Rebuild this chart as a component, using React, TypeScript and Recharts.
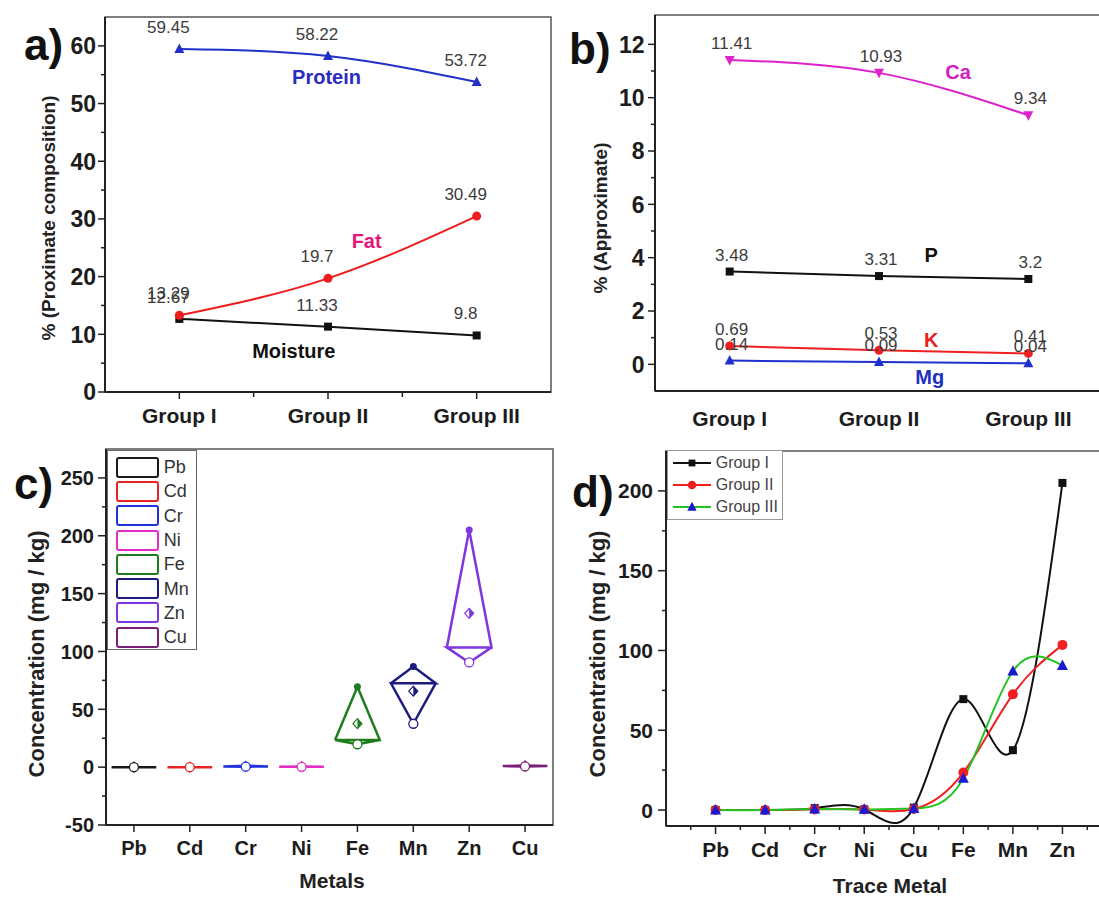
import React from "react";
import {
  LineChart,
  Line,
  XAxis,
  YAxis,
  ReferenceArea,
  ReferenceDot,
  LabelList,
  Legend,
} from "recharts";

const FONT = "'Liberation Sans', Arial, Helvetica, sans-serif";
const INK = "#1c1c1c";
const FRAME = "#555";
const AXIS_LINE = { stroke: "#222", strokeWidth: 2 };

// ---- panel a: proximate composition (%)
const groups = ["Group I", "Group II", "Group III"];
const protein = [59.45, 58.22, 53.72];
const fat = [13.29, 19.7, 30.49];
const moisture = [12.67, 11.33, 9.8];

// ---- panel b: minerals (%)
const calcium = [11.41, 10.93, 9.34];
const phosphorus = [3.48, 3.31, 3.2];
const potassium = [0.69, 0.53, 0.41];
const magnesium = [0.14, 0.09, 0.04];

// ---- panel d: trace metals (mg/kg) per group
const traceMetals = ["Pb", "Cd", "Cr", "Ni", "Cu", "Fe", "Mn", "Zn"];
const groupI = [0, 0, 1.2, 0.5, 1.5, 69.5, 37.5, 205];
const groupII = [0, 0, 0.4, 0.3, 0.6, 23.5, 72.5, 103.5];
const groupIII = [0, 0, 0.6, 0.4, 0.9, 19.8, 87, 90.5];

// ---- panel c: same metals, other order
const metalsC = ["Pb", "Cd", "Cr", "Ni", "Fe", "Mn", "Zn", "Cu"];

const TICKS_A_Y = [0, 5, 10, 15, 20, 25, 30, 35, 40, 45, 50, 55, 60];
const TICKS_B_Y = [0, 1, 2, 3, 4, 5, 6, 7, 8, 9, 10, 11, 12];
const TICKS_C_Y = [-50, -25, 0, 25, 50, 75, 100, 125, 150, 175, 200, 225, 250];
const TICKS_D_Y = [0, 25, 50, 75, 100, 125, 150, 175, 200];
const TICKS_D_X = [0.5, 1, 1.5, 2, 2.5, 3, 3.5, 4, 4.5, 5, 5.5, 6, 6.5, 7, 7.5, 8, 8.5];

const METAL_COLORS: Record<string, string> = {
  Pb: "#1a1a1a",
  Cd: "#e82323",
  Cr: "#2233dd",
  Ni: "#e22ec6",
  Fe: "#1e7d1e",
  Mn: "#1c1c80",
  Zn: "#7f35e0",
  Cu: "#7a1e78",
};

const SERIES_D = [
  { key: "g1", name: "Group I", stroke: "#111", marker: "square", size: 8, fill: "#111" },
  { key: "g2", name: "Group II", stroke: "#f02020", marker: "circle", size: 10, fill: "#f02020" },
  { key: "g3", name: "Group III", stroke: "#22c422", marker: "up", size: 11, fill: "#1a1ad0" },
];

// ---------- helpers
function Mark({ kind, cx, cy, size, fill }: any) {
  const h = size / 2;
  if (kind === "square") return <rect x={cx - h} y={cy - h} width={size} height={size} fill={fill} />;
  if (kind === "circle") return <circle cx={cx} cy={cy} r={h} fill={fill} />;
  if (kind === "up")
    return <path d={`M${cx},${cy - h * 1.1}L${cx + h},${cy + h * 0.8}L${cx - h},${cy + h * 0.8}Z`} fill={fill} />;
  return <path d={`M${cx},${cy + h * 1.1}L${cx + h},${cy - h * 0.8}L${cx - h},${cy - h * 0.8}Z`} fill={fill} />;
}

const dotOf = (kind: string, size: number, fill: string) => (p: any) =>
  <Mark key={p.index} kind={kind} cx={p.cx} cy={p.cy} size={size} fill={fill} />;

function bottomTick(o: { labelOf: (v: number) => string | null; majorLen: number; minorLen: number; fontSize: number; dy: number }) {
  return (p: any) => {
    const v = p.payload.value;
    const label = o.labelOf(v);
    const len = label !== null ? o.majorLen : o.minorLen;
    return (
      <g>
        {len > 0 && <line x1={p.x} x2={p.x} y1={p.y} y2={p.y + len} stroke="#222" strokeWidth={1.5} />}
        {label !== null && (
          <text x={p.x} y={p.y + o.dy} textAnchor="middle" fontSize={o.fontSize} fontWeight="bold" fill={INK}>
            {label}
          </text>
        )}
      </g>
    );
  };
}

function leftTick(o: { labelOf: (v: number) => string | null; majorLen: number; minorLen: number; fontSize: number; gap: number }) {
  return (p: any) => {
    const v = p.payload.value;
    const label = o.labelOf(v);
    const len = label !== null ? o.majorLen : o.minorLen;
    return (
      <g>
        {len > 0 && <line x1={p.x} x2={p.x - len} y1={p.y} y2={p.y} stroke="#222" strokeWidth={1.5} />}
        {label !== null && (
          <text x={p.x - o.gap} y={p.y + o.fontSize * 0.36} textAnchor="end" fontSize={o.fontSize} fontWeight="bold" fill={INK}>
            {label}
          </text>
        )}
      </g>
    );
  };
}

const axisTitle = (text: string, x: number, y: number, size: number, vertical: boolean) => ({
  content: () => (
    <text
      x={x}
      y={y}
      transform={vertical ? `rotate(-90 ${x} ${y})` : undefined}
      textAnchor="middle"
      dominantBaseline="central"
      fontSize={size}
      fontWeight="bold"
      fill="#222"
    >
      {text}
    </text>
  ),
});

const valueLabel = (dx: number, dy: number) => (p: any) => {
  const x = p.x ?? p.viewBox?.x;
  const y = p.y ?? p.viewBox?.y;
  return (
    <text x={x + dx} y={y + dy} textAnchor="middle" fontSize={17} fill="#3c3c3c">
      {p.value}
    </text>
  );
};

const noteShape = (text: string, color: string) => (p: any) => (
  <text x={p.cx} y={p.cy} textAnchor="middle" dominantBaseline="central" fontSize={20} fontWeight="bold" fill={color}>
    {text}
  </text>
);

// ---------- panel a
const rowsA = groups.map((g, i) => ({ x: i + 1, group: g, protein: protein[i], fat: fat[i], moisture: moisture[i] }));

function PanelA() {
  return (
    <div style={{ position: "absolute", left: 0, top: 0 }}>
      <LineChart width={560} height={440} data={rowsA} margin={{ top: 17, right: 9, bottom: 0, left: 0 }}>
        <ReferenceArea x1={0.5} x2={3.5} y1={0} y2={65} fill="none" stroke={FRAME} strokeWidth={1.5} ifOverflow="visible" />
        <XAxis
          dataKey="x"
          type="number"
          domain={[0.5, 3.5]}
          allowDataOverflow
          ticks={[1, 1.5, 2, 2.5, 3]}
          interval={0}
          height={48}
          tickSize={0}
          tickMargin={0}
          tickLine={false}
          axisLine={AXIS_LINE}
          tick={bottomTick({ labelOf: (v) => (Number.isInteger(v) ? groups[v - 1] : null), majorLen: 7, minorLen: 5, fontSize: 21, dy: 30.5 })}
        />
        <YAxis
          type="number"
          domain={[0, 65]}
          allowDataOverflow
          ticks={TICKS_A_Y}
          interval={0}
          width={105}
          tickSize={0}
          tickMargin={0}
          tickLine={false}
          axisLine={AXIS_LINE}
          tick={leftTick({ labelOf: (v) => (v % 10 === 0 ? String(v) : null), majorLen: 7, minorLen: 4, fontSize: 23, gap: 9 })}
          label={axisTitle("% (Proximate composition)", 48, 218, 19, true)}
        />
        <Line dataKey="moisture" type="natural" stroke="#111" strokeWidth={2} dot={dotOf("square", 8, "#111")} isAnimationActive={false}>
          <LabelList dataKey="moisture" content={valueLabel(-11, -16)} />
        </Line>
        <Line dataKey="fat" type="natural" stroke="#ee1c1c" strokeWidth={2} dot={dotOf("circle", 9, "#ee1c1c")} isAnimationActive={false}>
          <LabelList dataKey="fat" content={valueLabel(-11, -16)} />
        </Line>
        <Line dataKey="protein" type="natural" stroke="#2130c8" strokeWidth={2} dot={dotOf("up", 10, "#2130c8")} isAnimationActive={false}>
          <LabelList dataKey="protein" content={valueLabel(-11, -16)} />
        </Line>
        <ReferenceDot x={1.99} y={54.6} r={1} shape={noteShape("Protein", "#2b2bc0")} />
        <ReferenceDot x={2.26} y={26.2} r={1} shape={noteShape("Fat", "#e6177a")} />
        <ReferenceDot x={1.77} y={7.1} r={1} shape={noteShape("Moisture", "#111")} />
      </LineChart>
    </div>
  );
}

// ---------- panel b
const rowsB = groups.map((g, i) => ({
  x: i + 1,
  group: g,
  ca: calcium[i],
  p: phosphorus[i],
  k: potassium[i],
  mg: magnesium[i],
}));

function PanelB() {
  return (
    <div style={{ position: "absolute", left: 550, top: 0 }}>
      <LineChart width={560} height={440} data={rowsB} margin={{ top: 15, right: 7, bottom: 0, left: 0 }}>
        <ReferenceArea x1={0.5} x2={3.5} y1={-1} y2={13.1} fill="none" stroke={FRAME} strokeWidth={1.5} ifOverflow="visible" />
        <XAxis
          dataKey="x"
          type="number"
          domain={[0.5, 3.5]}
          allowDataOverflow
          ticks={[1, 2, 3]}
          interval={0}
          height={49}
          tickSize={0}
          tickMargin={0}
          tickLine={false}
          axisLine={AXIS_LINE}
          tick={bottomTick({ labelOf: (v) => groups[v - 1], majorLen: 0, minorLen: 0, fontSize: 21, dy: 34.5 })}
        />
        <YAxis
          type="number"
          domain={[-1, 13.1]}
          allowDataOverflow
          ticks={TICKS_B_Y}
          interval={0}
          width={105}
          tickSize={0}
          tickMargin={0}
          tickLine={false}
          axisLine={AXIS_LINE}
          tick={leftTick({ labelOf: (v) => (v % 2 === 0 ? String(v) : null), majorLen: 7, minorLen: 4, fontSize: 23, gap: 10.5 })}
          label={axisTitle("% (Approximate)", 50.8, 218, 19, true)}
        />
        <Line dataKey="mg" type="natural" stroke="#1f2fd0" strokeWidth={2} dot={dotOf("up", 10, "#1f2fd0")} isAnimationActive={false}>
          <LabelList dataKey="mg" content={valueLabel(2, -11)} />
        </Line>
        <Line dataKey="k" type="natural" stroke="#ee2020" strokeWidth={2} dot={dotOf("circle", 9, "#ee2020")} isAnimationActive={false}>
          <LabelList dataKey="k" content={valueLabel(2, -11)} />
        </Line>
        <Line dataKey="p" type="natural" stroke="#111" strokeWidth={2} dot={dotOf("square", 8, "#111")} isAnimationActive={false}>
          <LabelList dataKey="p" content={valueLabel(2, -11)} />
        </Line>
        <Line dataKey="ca" type="natural" stroke="#dd22cc" strokeWidth={2} dot={dotOf("down", 10, "#dd22cc")} isAnimationActive={false}>
          <LabelList dataKey="ca" content={valueLabel(2, -11)} />
        </Line>
        <ReferenceDot x={2.53} y={10.97} r={1} shape={noteShape("Ca", "#d020c0")} />
        <ReferenceDot x={2.35} y={4.1} r={1} shape={noteShape("P", "#111")} />
        <ReferenceDot x={2.35} y={0.91} r={1} shape={noteShape("K", "#e82020")} />
        <ReferenceDot x={2.34} y={-0.47} r={1} shape={noteShape("Mg", "#2030c0")} />
      </LineChart>
    </div>
  );
}

// ---------- panel c (diamond boxes built from the three groups)
const HALF = 0.4;
const statsC = metalsC.map((m, i) => {
  const j = traceMetals.indexOf(m);
  const v = [groupI[j], groupII[j], groupIII[j]].sort((a, b) => a - b);
  return { metal: m, x: i + 1, min: v[0], med: v[1], max: v[2], mean: (v[0] + v[1] + v[2]) / 3 };
});

const outlineOf = (s: (typeof statsC)[number]) => [
  { x: s.x - HALF, y: s.med },
  { x: s.x, y: s.max },
  { x: s.x + HALF, y: s.med },
  { x: s.x - HALF, y: s.med },
  { x: s.x, y: s.min },
  { x: s.x + HALF, y: s.med },
];

const maxPts = statsC.map((s) => ({ x: s.x, y: s.max, metal: s.metal }));
const meanPts = statsC.map((s) => ({ x: s.x, y: s.mean, metal: s.metal }));
const minPts = statsC.map((s) => ({ x: s.x, y: s.min, metal: s.metal }));

const maxDot = (p: any) => <circle key={p.index} cx={p.cx} cy={p.cy} r={3.5} fill={METAL_COLORS[p.payload.metal]} />;
const meanDot = (p: any) => {
  const c = METAL_COLORS[p.payload.metal];
  const { cx, cy } = p;
  return (
    <g key={p.index}>
      <path d={`M${cx},${cy - 5}L${cx + 4.5},${cy}L${cx},${cy + 5}L${cx - 4.5},${cy}Z`} fill="#fff" stroke={c} strokeWidth={1.2} />
      <path d={`M${cx},${cy - 5}L${cx + 4.5},${cy}L${cx},${cy + 5}Z`} fill={c} />
    </g>
  );
};
const minDot = (p: any) => (
  <circle key={p.index} cx={p.cx} cy={p.cy} r={4.5} fill="#fff" stroke={METAL_COLORS[p.payload.metal]} strokeWidth={1.3} />
);

const LegendC = (props: any) => {
  const items = metalsC
    .map((m) => (props.payload ?? []).find((e: any) => e.value === m))
    .filter(Boolean);
  return (
    <div style={{ border: "1px solid #666", background: "#fff", width: 90, height: 200, boxSizing: "border-box", paddingTop: 4 }}>
      {items.map((e: any) => (
        <div key={e.value} style={{ display: "flex", alignItems: "center", height: 24.3 }}>
          <div
            style={{
              marginLeft: 8,
              width: 43,
              height: 21,
              boxSizing: "border-box",
              border: `2.5px solid ${e.color}`,
              borderRadius: 3,
            }}
          />
          <span style={{ marginLeft: 5, fontSize: 18, color: "#333", lineHeight: 1 }}>{e.value}</span>
        </div>
      ))}
    </div>
  );
};

function PanelC() {
  return (
    <div style={{ position: "absolute", left: 0, top: 430 }}>
      <LineChart width={560} height={468} margin={{ top: 19, right: 7, bottom: 0, left: 0 }}>
        <ReferenceArea x1={0.5} x2={8.5} y1={-50} y2={275} fill="none" stroke={FRAME} strokeWidth={1.5} ifOverflow="visible" />
        <XAxis
          dataKey="x"
          type="number"
          domain={[0.5, 8.5]}
          allowDataOverflow
          ticks={[1, 2, 3, 4, 5, 6, 7, 8]}
          interval={0}
          height={73}
          tickSize={0}
          tickMargin={0}
          tickLine={false}
          axisLine={AXIS_LINE}
          tick={bottomTick({ labelOf: (v) => metalsC[v - 1], majorLen: 7, minorLen: 0, fontSize: 20, dy: 30 })}
          label={axisTitle("Metals", 332, 450, 21, false)}
        />
        <YAxis
          dataKey="y"
          type="number"
          domain={[-50, 275]}
          allowDataOverflow
          ticks={TICKS_C_Y}
          interval={0}
          width={106}
          tickSize={0}
          tickMargin={0}
          tickLine={false}
          axisLine={AXIS_LINE}
          tick={leftTick({ labelOf: (v) => (v % 50 === 0 ? String(v) : null), majorLen: 8, minorLen: 4, fontSize: 20, gap: 12 })}
          label={axisTitle("Concentration (mg / kg)", 36.4, 224, 22, true)}
        />
        {statsC.map((s) => (
          <Line
            key={s.metal}
            data={outlineOf(s)}
            dataKey="y"
            name={s.metal}
            type="linear"
            stroke={METAL_COLORS[s.metal]}
            strokeWidth={2.5}
            dot={false}
            activeDot={false}
            isAnimationActive={false}
          />
        ))}
        <Line data={maxPts} dataKey="y" name="max" stroke="none" dot={maxDot} legendType="none" activeDot={false} isAnimationActive={false} />
        <Line data={meanPts} dataKey="y" name="mean" stroke="none" dot={meanDot} legendType="none" activeDot={false} isAnimationActive={false} />
        <Line data={minPts} dataKey="y" name="min" stroke="none" dot={minDot} legendType="none" activeDot={false} isAnimationActive={false} />
        <Legend
          layout="vertical"
          align="center"
          verticalAlign="middle"
          content={LegendC}
          wrapperStyle={{ left: 106.7, top: 20, width: 90 }}
        />
      </LineChart>
    </div>
  );
}

// ---------- panel d
const rowsD = traceMetals.map((m, i) => ({ x: i + 1, metal: m, g1: groupI[i], g2: groupII[i], g3: groupIII[i] }));

const LegendD = (props: any) => {
  const items = SERIES_D.map((s) => (props.payload ?? []).find((e: any) => e.dataKey === s.key)).filter(Boolean);
  return (
    <div style={{ border: "1px solid #999", background: "#fff", width: 116, height: 70, boxSizing: "border-box", paddingTop: 1 }}>
      {items.map((e: any) => {
        const s = SERIES_D.find((d) => d.key === e.dataKey) ?? SERIES_D[0];
        return (
          <div key={e.value} style={{ display: "flex", alignItems: "center", height: 22 }}>
            <svg width={40} height={14} style={{ marginLeft: 4 }}>
              <line x1={1} x2={39} y1={7} y2={7} stroke={s.stroke} strokeWidth={2} />
              <Mark kind={s.marker} cx={20} cy={7} size={s.size * 0.85} fill={s.fill} />
            </svg>
            <span style={{ marginLeft: 4, fontSize: 16, color: "#444", lineHeight: 1 }}>{e.value}</span>
          </div>
        );
      })}
    </div>
  );
};

function PanelD() {
  return (
    <div style={{ position: "absolute", left: 560, top: 430 }}>
      <LineChart width={560} height={468} data={rowsD} margin={{ top: 21, right: 8, bottom: 0, left: 0 }}>
        <ReferenceArea x1={0} x2={9} y1={-10} y2={225} fill="none" stroke={FRAME} strokeWidth={1.5} ifOverflow="visible" />
        <XAxis
          dataKey="x"
          type="number"
          domain={[0, 9]}
          allowDataOverflow
          ticks={TICKS_D_X}
          interval={0}
          height={72}
          tickSize={0}
          tickMargin={0}
          tickLine={false}
          axisLine={AXIS_LINE}
          tick={bottomTick({ labelOf: (v) => (Number.isInteger(v) ? traceMetals[v - 1] : null), majorLen: 8, minorLen: 4, fontSize: 21, dy: 31 })}
          label={axisTitle("Trace Metal", 330, 455, 21, false)}
        />
        <YAxis
          type="number"
          domain={[-10, 225]}
          allowDataOverflow
          ticks={TICKS_D_Y}
          interval={0}
          width={106}
          tickSize={0}
          tickMargin={0}
          tickLine={false}
          axisLine={AXIS_LINE}
          tick={leftTick({ labelOf: (v) => (v % 50 === 0 ? String(v) : null), majorLen: 8, minorLen: 4, fontSize: 21, gap: 13 })}
          label={axisTitle("Concentration (mg / kg)", 37.8, 224, 22, true)}
        />
        {SERIES_D.map((s) => (
          <Line
            key={s.key}
            dataKey={s.key}
            name={s.name}
            type="natural"
            stroke={s.stroke}
            strokeWidth={2}
            dot={dotOf(s.marker, s.size, s.fill)}
            activeDot={false}
            isAnimationActive={false}
          />
        ))}
        <Legend
          layout="vertical"
          align="center"
          verticalAlign="middle"
          content={LegendD}
          wrapperStyle={{ left: 106.7, top: 20, width: 116 }}
        />
      </LineChart>
    </div>
  );
}

function Letter({ text, left, top }: { text: string; left: number; top: number }) {
  return (
    <div
      style={{
        position: "absolute",
        left,
        top,
        fontSize: 44,
        lineHeight: "44px",
        fontWeight: "bold",
        color: "#111",
        pointerEvents: "none",
      }}
    >
      {text}
    </div>
  );
}

export default function App() {
  return (
    <div
      style={{
        position: "absolute",
        left: 0,
        top: 0,
        width: 1099,
        height: 898,
        overflow: "hidden",
        background: "#fff",
        fontFamily: FONT,
      }}
    >
      <PanelA />
      <PanelB />
      <PanelC />
      <PanelD />
      <Letter text="a)" left={24} top={23} />
      <Letter text="b)" left={569} top={27} />
      <Letter text="c)" left={14} top={462} />
      <Letter text="d)" left={572} top={470} />
    </div>
  );
}
